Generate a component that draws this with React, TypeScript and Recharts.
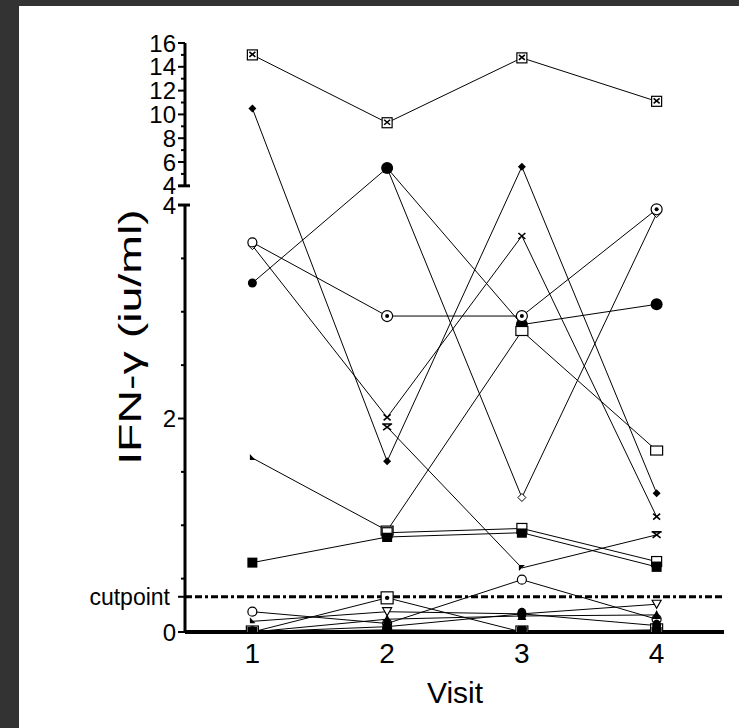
import { LineChart, Line, XAxis, YAxis, ReferenceLine } from "recharts"

// IFN-γ per subject over four visits. Values are in iu/ml as read off the
// figure; the y axis is broken at 4 (0–4 linear, 4–16 compressed above).
const VISITS = [1, 2, 3, 4]

const SUBJECT_A = [15.0, 9.3, 14.75, 11.1]
const SUBJECT_B = [10.5, 1.6, 5.6, 1.3]
const SUBJECT_C = [3.27, 5.5, 2.88, 3.07]
const SUBJECT_D = [null, 5.5, 1.26, 3.92]
const SUBJECT_E = [3.65, 2.96, 2.96, 3.96]
const SUBJECT_F = [3.62, 2.01, 3.71, 1.08]
const SUBJECT_G = [null, 1.92, 0.6, 0.91]
const SUBJECT_H = [1.63, 0.95, 2.82, 1.7]
const SUBJECT_I = [0.65, 0.89, 0.93, 0.61]
const SUBJECT_J = [null, 0.93, 0.97, 0.66]
const SUBJECT_K = [0, 0.32, 0, 0.02]
const SUBJECT_L = [0.1, 0.19, 0.17, 0.26]
const SUBJECT_M = [0.19, 0.08, 0.49, 0.12]
const SUBJECT_N = [0, 0.12, 0.15, 0.16]
const SUBJECT_O = [0, 0.05, 0.17, 0.06]
const SUBJECT_P = [0, 0, 0, 0]
const SUBJECT_Q = [0, 0.02, 0.01, 0]

const CUTPOINT = 0.33

const Y_MAJOR_LOWER = [0, 2, 4]
const Y_MINOR_LOWER = [0.5, 1, 1.5, 2.5, 3, 3.5]
const Y_MAJOR_UPPER = [4, 6, 8, 10, 12, 14, 16]
const Y_MINOR_UPPER = [5, 7, 9, 11, 13, 15]

// axis break: everything above 4 is squeezed into a short upper segment
const BREAK_AT = 4
const BREAK_GAP = 0.18
const UPPER_SCALE = 0.1115
const upperPos = (v: number) => BREAK_AT + BREAK_GAP + (v - BREAK_AT) * UPPER_SCALE
const toAxis = (v: number) => (v <= BREAK_AT ? v : upperPos(v))
const Y_TOP = upperPos(16)

const FONT = "'Liberation Sans', Arial, Helvetica, sans-serif"

type Shape =
  | "boxX" | "diamond" | "circle" | "diamondOpen" | "circleDot" | "cross" | "asterisk"
  | "square" | "squareFilled" | "squareHalf" | "squareDot" | "triDown" | "circleOpen"
  | "triUp" | "dot" | "bar" | "tinyTri" | "arrow"

// shapes: one per visit where the original symbol differs along the series
const SERIES: { key: string; values: (number | null)[]; shape: Shape; shapes?: Shape[] }[] = [
  { key: "a", values: SUBJECT_A, shape: "boxX" },
  { key: "b", values: SUBJECT_B, shape: "diamond" },
  { key: "d", values: SUBJECT_D, shape: "diamondOpen" },
  { key: "c", values: SUBJECT_C, shape: "circle" },
  { key: "f", values: SUBJECT_F, shape: "cross", shapes: ["diamondOpen", "cross", "cross", "cross"] },
  { key: "e", values: SUBJECT_E, shape: "circleDot", shapes: ["circleOpen", "circleDot", "circleDot", "circleDot"] },
  { key: "g", values: SUBJECT_G, shape: "asterisk", shapes: ["asterisk", "asterisk", "arrow", "asterisk"] },
  { key: "h", values: SUBJECT_H, shape: "square", shapes: ["tinyTri", "square", "square", "square"] },
  { key: "i", values: SUBJECT_I, shape: "squareFilled" },
  { key: "j", values: SUBJECT_J, shape: "squareHalf" },
  { key: "k", values: SUBJECT_K, shape: "squareDot" },
  { key: "l", values: SUBJECT_L, shape: "triDown", shapes: ["tinyTri", "triDown", "dot", "triDown"] },
  { key: "m", values: SUBJECT_M, shape: "circleOpen" },
  { key: "n", values: SUBJECT_N, shape: "triUp" },
  { key: "o", values: SUBJECT_O, shape: "dot" },
  { key: "p", values: SUBJECT_P, shape: "squareFilled" },
  { key: "q", values: SUBJECT_Q, shape: "bar" },
]

const chartData = VISITS.map((visit, i) => {
  const row: Record<string, number | null> = { visit }
  SERIES.forEach((s) => {
    const v = s.values[i]
    row[s.key] = v == null ? null : toAxis(v)
  })
  return row
})

type TickDef = { pos: number; label: string; len: number; cap?: boolean }

const Y_TICKS: TickDef[] = [
  ...Y_MAJOR_LOWER.map((v) => ({ pos: v, label: String(v), len: 7, cap: v === BREAK_AT })),
  ...Y_MINOR_LOWER.map((v) => ({ pos: v, label: "", len: 4 })),
  { pos: CUTPOINT, label: "cutpoint", len: 7 },
  ...Y_MAJOR_UPPER.map((v) => ({ pos: upperPos(v), label: String(v), len: 7, cap: v === BREAK_AT })),
  ...Y_MINOR_UPPER.map((v) => ({ pos: upperPos(v), label: "", len: 4 })),
]

function YTick(props: any) {
  const { x, y, payload } = props
  const def = Y_TICKS.find((t) => Math.abs(t.pos - payload.value) < 1e-6)
  if (!def) return <g />
  const isCut = def.label === "cutpoint"
  return (
    <g>
      {def.cap ? (
        <line x1={x - 7} x2={x + 5} y1={y} y2={y} stroke="#000" strokeWidth={3} />
      ) : (
        <line x1={x - def.len} x2={x} y1={y} y2={y} stroke="#000" strokeWidth={2} />
      )}
      {def.label && (
        <text
          x={x - (isCut ? 15 : 9)}
          y={y}
          dy="0.36em"
          textAnchor="end"
          fontSize={isCut ? 23 : 24}
          fontFamily={FONT}
          fill="#000"
        >
          {def.label}
        </text>
      )}
    </g>
  )
}

function Marker({ cx, cy, shape }: { cx?: number; cy?: number; shape: Shape }) {
  if (cx == null || cy == null || Number.isNaN(cy)) return <g />
  const k = "#000"
  switch (shape) {
    case "boxX":
      return (
        <g>
          <rect x={cx - 5} y={cy - 5} width={10} height={10} fill="#fff" stroke={k} strokeWidth={1.2} />
          <path d={`M${cx - 3},${cy - 3}L${cx + 3},${cy + 2}M${cx + 3},${cy - 3}L${cx - 3},${cy + 2}`} stroke={k} strokeWidth={1.6} />
        </g>
      )
    case "diamond":
      return <path d={`M${cx},${cy - 4}L${cx + 4},${cy}L${cx},${cy + 4}L${cx - 4},${cy}Z`} fill={k} />
    case "diamondOpen":
      return <path d={`M${cx},${cy - 4}L${cx + 4},${cy}L${cx},${cy + 4}L${cx - 4},${cy}Z`} fill="#fff" stroke={k} strokeWidth={1} />
    case "circle":
      return <circle cx={cx} cy={cy} r={cx < 300 ? 4.5 : 6} fill={k} />
    case "circleDot":
      return (
        <g>
          <circle cx={cx} cy={cy} r={5.5} fill="#fff" stroke={k} strokeWidth={1.2} />
          <circle cx={cx} cy={cy} r={2} fill={k} />
        </g>
      )
    case "circleOpen":
      return <circle cx={cx} cy={cy} r={4.5} fill="#fff" stroke={k} strokeWidth={1.2} />
    case "cross":
      return <path d={`M${cx - 3.5},${cy - 3}L${cx + 3.5},${cy + 3}M${cx + 3.5},${cy - 3}L${cx - 3.5},${cy + 3}`} stroke={k} strokeWidth={1.6} />
    case "asterisk":
      return (
        <path
          d={`M${cx - 4},${cy - 3}L${cx + 4},${cy + 3}M${cx + 4},${cy - 3}L${cx - 4},${cy + 3}M${cx - 5},${cy - 3}L${cx + 5},${cy - 3}`}
          stroke={k}
          strokeWidth={1.6}
        />
      )
    case "arrow":
      return <path d={`M${cx - 3},${cy - 3}L${cx + 3},${cy - 3}L${cx - 3},${cy + 3}Z`} fill={k} />
    case "square":
      return <rect x={cx - 6} y={cy - 4.5} width={12} height={9} fill="#fff" stroke={k} strokeWidth={1.2} />
    case "squareFilled":
      return <rect x={cx - 5} y={cy - 5} width={10} height={10} fill={k} />
    case "squareHalf":
      return (
        <g>
          <rect x={cx - 5} y={cy - 5} width={10} height={10} fill="#fff" stroke={k} strokeWidth={1.2} />
          <rect x={cx - 5} y={cy} width={10} height={5} fill={k} />
        </g>
      )
    case "squareDot":
      return (
        <g>
          <rect x={cx - 6} y={cy - 6} width={12} height={12} fill="#fff" stroke={k} strokeWidth={1.2} />
          <circle cx={cx} cy={cy} r={2.2} fill={k} />
        </g>
      )
    case "triDown":
      return <path d={`M${cx - 4.5},${cy - 4}L${cx + 4.5},${cy - 4}L${cx},${cy + 4}Z`} fill="#fff" stroke={k} strokeWidth={1.2} />
    case "triUp":
      return <path d={`M${cx - 4.5},${cy + 4}L${cx + 4.5},${cy + 4}L${cx},${cy - 5}Z`} fill={k} />
    case "tinyTri":
      return <path d={`M${cx - 2.5},${cy - 4}L${cx + 3},${cy + 2}L${cx - 2.5},${cy + 2}Z`} fill={k} />
    case "dot":
      return <ellipse cx={cx} cy={cy} rx={4.5} ry={6} fill={k} />
    case "bar":
      return <rect x={cx - 4} y={cy - 5} width={8} height={10} fill={k} />
  }
  return <g />
}

export default function App() {
  return (
    <div style={{ position: "absolute", left: 0, top: 0, width: 739, height: 728, background: "#333333" }}>
      <div style={{ position: "absolute", left: 19, top: 6, right: 0, bottom: 0, background: "#ffffff" }} />
      <div style={{ position: "absolute", left: 0, top: 0 }}>
        <LineChart
          width={739}
          height={728}
          data={chartData}
          margin={{ top: 43, right: 15, bottom: 66, left: 125 }}
        >
          <XAxis
            dataKey="visit"
            type="number"
            domain={[0.5, 4.5]}
            ticks={VISITS}
            allowDataOverflow
            height={30}
            tickLine={false}
            tickSize={0}
            tickMargin={11}
            axisLine={{ stroke: "#000", strokeWidth: 4 }}
            tick={{ fontSize: 28, fill: "#000", fontFamily: FONT }}
            label={{
              content: () => (
                <text x={455} y={703} textAnchor="middle" fontSize={30} fontFamily={FONT} fill="#000">
                  Visit
                </text>
              ),
            }}
          />
          <YAxis
            type="number"
            domain={[0, Y_TOP]}
            ticks={Y_TICKS.map((t) => t.pos)}
            interval={0}
            allowDataOverflow
            width={60}
            axisLine={false}
            tickLine={false}
            tickSize={0}
            tickMargin={0}
            tick={<YTick />}
            label={{
              content: () => (
                <text
                  x={0}
                  y={0}
                  transform="translate(130 337) rotate(-90) scale(1.5 1)"
                  textAnchor="middle"
                  dominantBaseline="central"
                  fontSize={31}
                  fontFamily={FONT}
                  fill="#000"
                >
                  IFN-γ (iu/ml)
                </text>
              ),
            }}
          />
          <ReferenceLine
            segment={[{ x: 0.5, y: 0 }, { x: 0.5, y: BREAK_AT }]}
            stroke="#000"
            strokeWidth={3}
            ifOverflow="visible"
          />
          <ReferenceLine
            segment={[{ x: 0.5, y: upperPos(BREAK_AT) }, { x: 0.5, y: Y_TOP }]}
            stroke="#000"
            strokeWidth={3}
            ifOverflow="visible"
          />
          <ReferenceLine
            y={CUTPOINT}
            stroke="#000"
            strokeWidth={3}
            strokeDasharray="7 3 7 3 3 3"
            ifOverflow="visible"
          />
          {SERIES.map((s) => (
            <Line
              key={s.key}
              dataKey={s.key}
              type="linear"
              stroke="#000"
              strokeWidth={1}
              isAnimationActive={false}
              connectNulls={false}
              dot={(p: any) => (
                <Marker
                  key={`${s.key}-${p.index}`}
                  cx={p.cx}
                  cy={p.cy}
                  shape={s.shapes ? s.shapes[p.index] : s.shape}
                />
              )}
              activeDot={false}
            />
          ))}
        </LineChart>
      </div>
    </div>
  )
}
